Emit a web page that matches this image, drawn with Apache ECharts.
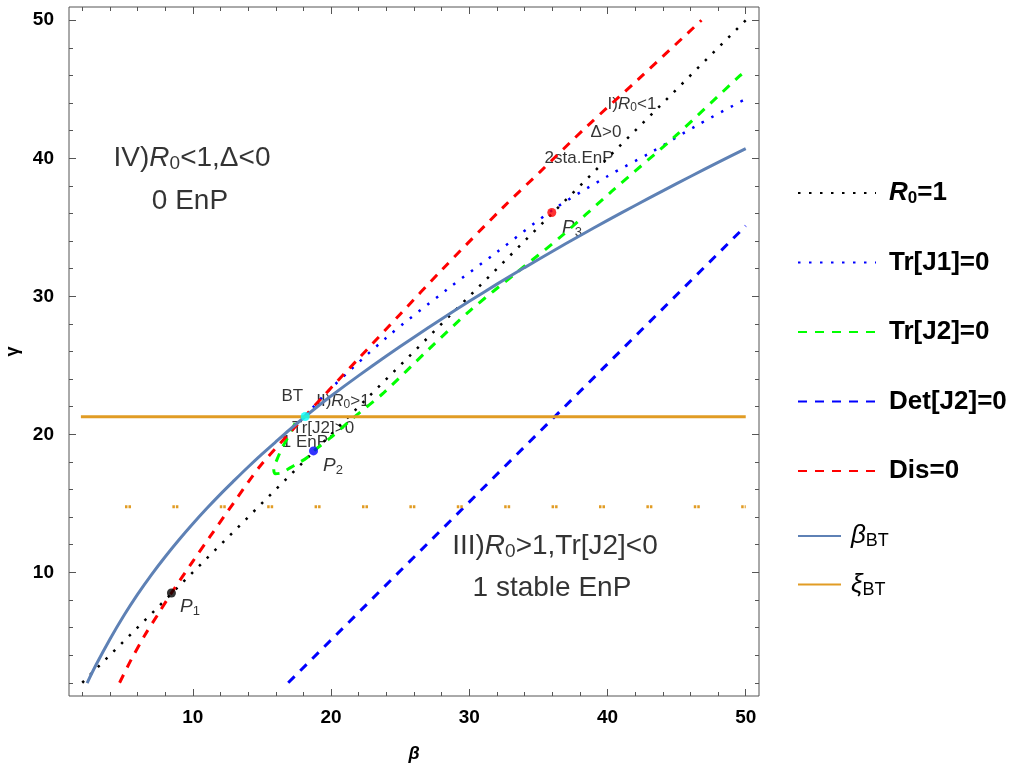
<!DOCTYPE html>
<html lang="en">
<head>
    <meta charset="utf-8">
    <title>BT bifurcation diagram</title>
    <script src="https://cdn.jsdelivr.net/npm/echarts@6.0.0/dist/echarts.min.js"></script>
    <style>
        html, body { margin: 0; padding: 0; background: #fff; }
        #main { width: 1016px; height: 769px; }
    </style>
</head>
<body>
<div id="main"></div>
<script type="text/javascript">
    // R0 = 1 (black dotted)
    var r0Beta = [2, 50];
    var r0Gamma = [2, 50];

    // Tr[J1] = 0 (blue dotted)
    var trJ1Beta = [18.2, 18.73, 20.06, 24, 28.4, 32, 36.1, 40, 43.1, 46.5, 50];
    var trJ1Gamma = [21.3, 22.0, 23.4, 27.0, 30.5, 33.2, 36.3, 38.7, 40.4, 42.4, 44.3];

    // Tr[J2] = 0 (green dashed)
    var trJ2Beta = [17.4, 17.0, 16.5, 16.1, 15.85, 15.95, 16.4, 17.0, 17.6, 18.25, 18.75, 19.9, 21.5, 23.8, 27, 30.1, 33.4, 36.6, 40.3, 44.9, 49.6, 50];
    var trJ2Gamma = [20.8, 20.0, 19.1, 18.2, 17.5, 17.15, 17.2, 17.55, 17.9, 18.3, 18.8, 19.7, 21.1, 23.0, 26.1, 29.0, 31.7, 34.3, 37.6, 41.6, 46.0, 46.3];

    // Det[J2] = 0 (blue dashed)
    var detBeta = [16.9, 50];
    var detGamma = [2.0, 35.1];

    // Dis = 0 (red dashed)
    var disBeta = [4.7, 5.5, 6.5, 7.5, 8.45, 10, 11.25, 13, 14.87, 17.28, 19.57, 22, 25, 28, 32.5, 35.1, 38.5, 42.2, 46.8];
    var disGamma = [2.0, 3.6, 5.4, 7.0, 8.5, 10.8, 12.6, 15.1, 17.7, 20.4, 22.9, 25.5, 28.7, 31.9, 36.5, 39.0, 42.3, 45.7, 50.0];

    // beta_BT (solid)
    var btBeta = [2.35, 3, 4, 5, 6, 7, 8, 9, 10, 11, 12, 13, 14, 15, 16, 17, 18, 19, 20, 22, 24, 26, 28, 30, 32, 34, 36, 38, 40, 42, 44, 46, 48, 50];
    var btGamma = [1.98, 3.3, 5.15, 6.85, 8.4, 9.82, 11.13, 12.36, 13.52, 14.62, 15.67, 16.66, 17.63, 18.56, 19.45, 20.33, 21.18, 22.0, 22.78, 24.25, 25.67, 27.04, 28.36, 29.64, 30.88, 32.08, 33.25, 34.39, 35.5, 36.58, 37.64, 38.68, 39.7, 40.7];

    // xi_BT (solid) and the dotted orange level
    var xiBeta = [1.9, 50];
    var xiGamma = [21.27, 21.27];
    var xiDotBeta = [5.09, 50];
    var xiDotGamma = [14.75, 14.75];

    // special points
    var pointNames = ['P1', 'P2', 'P3', 'BT'];
    var pointBeta = [8.45, 18.73, 35.97, 18.13];
    var pointGamma = [8.5, 18.8, 36.07, 21.29];
    var pointColors = ['#000000', '#0000ff', '#ff0000', '#00ffff'];

    // ticks
    var majorTicks = [10, 20, 30, 40, 50];
    var minorTicks = [2, 4, 6, 8, 12, 14, 16, 18, 22, 24, 26, 28, 32, 34, 36, 38, 42, 44, 46, 48];

    var FONT = '"Liberation Sans", Arial, sans-serif';
    var FRAME = '#555555';
    var axMin = 1.04, axMax = 50.96;

    function zip(a, b) {
        return a.map(function (v, i) { return [v, b[i]]; });
    }

    function frameAxis(pos, ticks, len, withLabels) {
        var ax = {
            type: 'value',
            position: pos,
            min: axMin,
            max: axMax,
            axisLine: {show: false},
            splitLine: {show: false},
            axisTick: {show: true, inside: true, length: len, customValues: ticks, lineStyle: {color: FRAME, width: 1}},
            axisLabel: {show: false}
        };
        if (withLabels) {
            ax.axisLabel = {
                show: true, customValues: majorTicks, color: '#000',
                fontFamily: FONT, fontWeight: 'bold', fontSize: 19, margin: 12
            };
        }
        return ax;
    }

    var xAxes = [frameAxis('bottom', majorTicks, 7, true), frameAxis('bottom', minorTicks, 4),
        frameAxis('top', majorTicks, 7), frameAxis('top', minorTicks, 4)];
    var yAxes = [frameAxis('left', majorTicks, 7, true), frameAxis('left', minorTicks, 4),
        frameAxis('right', majorTicks, 7), frameAxis('right', minorTicks, 4)];

    xAxes[0].name = 'β';
    xAxes[0].nameLocation = 'middle';
    xAxes[0].nameGap = 49;
    xAxes[0].nameTextStyle = {fontFamily: FONT, fontSize: 18, fontWeight: 'bold', fontStyle: 'italic', color: '#000'};
    yAxes[0].name = 'γ';
    yAxes[0].nameLocation = 'middle';
    yAxes[0].nameGap = 46;
    yAxes[0].nameTextStyle = {fontFamily: FONT, fontSize: 18, fontWeight: 'bold', color: '#000'};
    yAxes[0].axisLabel.margin = 15;

    var dotted = [2.5, 8.5];
    var dashed = [9, 8];

    function curve(name, bx, gy, color, width, type, smooth) {
        return {
            name: name, type: 'line', data: zip(bx, gy), showSymbol: false, symbol: 'none',
            smooth: smooth || false, animation: false, z: 2,
            lineStyle: {color: color, width: width, type: type},
            itemStyle: {color: color}
        };
    }

    var richBig = {
        n: {fontSize: 28, fontFamily: FONT, color: '#000'},
        i: {fontSize: 28, fontFamily: FONT, fontStyle: 'italic', color: '#000'},
        s: {fontSize: 19, fontFamily: FONT, color: '#000', padding: [11, 0, 0, 0]}
    };
    var richSmall = {
        n: {fontSize: 17, fontFamily: FONT, color: '#000'},
        i: {fontSize: 17, fontFamily: FONT, fontStyle: 'italic', color: '#000'},
        s: {fontSize: 12, fontFamily: FONT, color: '#000', padding: [7, 0, 0, 0]},
        pi: {fontSize: 19, fontFamily: FONT, fontStyle: 'italic', color: '#000'},
        ps: {fontSize: 13, fontFamily: FONT, color: '#000', padding: [8, 0, 0, 0]}
    };

    function note(text, b, g, rich) {
        return {value: [b, g], label: {formatter: text, rich: rich}};
    }

    var notes = [
        note('{n|IV)}{i|R}{s|0}{n|<1,Δ<0}', 9.94, 40.02, richBig),
        note('{n|0 EnP}', 9.79, 36.85, richBig),
        note('{n|III)}{i|R}{s|0}{n|>1,Tr[J2]<0}', 36.2, 11.86, richBig),
        note('{n|1 stable EnP}', 35.98, 8.86, richBig),
        note('{n|BT}', 17.2, 22.72, richSmall),
        note('{n|II)}{i|R}{s|0}{n|>1}', 20.86, 22.41, richSmall),
        note('{n|Tr[J2]>0}', 19.42, 20.46, richSmall),
        note('{n|1 EnP}', 18.11, 19.44, richSmall),
        note('{pi|P}{ps|1}', 9.79, 7.49, richSmall),
        note('{pi|P}{ps|2}', 20.14, 17.7, richSmall),
        note('{pi|P}{ps|3}', 37.43, 34.95, richSmall),
        note('{n|I)}{i|R}{s|0}{n|<1}', 41.77, 43.93, richSmall),
        note('{n|Δ>0}', 39.89, 41.9, richSmall),
        note('{n|2sta.EnP}', 37.94, 40.02, richSmall)
    ];

    var legendText = {
        'R0=1': '{bi|R}{bs|0}{b|=1}',
        'Tr[J1]=0': '{b|Tr[J1]=0}',
        'Tr[J2]=0': '{b|Tr[J2]=0}',
        'Det[J2]=0': '{b|Det[J2]=0}',
        'Dis=0': '{b|Dis=0}',
        'betaBT': '{g|β}{gs|BT}',
        'xiBT': '{g|ξ}{gs|BT}'
    };
    var legendRich = {
        b: {fontSize: 26, fontWeight: 'bold', fontFamily: FONT, color: '#000'},
        bi: {fontSize: 26, fontWeight: 'bold', fontStyle: 'italic', fontFamily: FONT, color: '#000'},
        bs: {fontSize: 17, fontWeight: 'bold', fontFamily: FONT, color: '#000', padding: [10, 0, 0, 0]},
        g: {fontSize: 26, fontStyle: 'italic', fontFamily: FONT, color: '#000'},
        gs: {fontSize: 18, fontFamily: FONT, color: '#000', padding: [10, 0, 0, 0]}
    };

    var myChart = echarts.init(document.getElementById('main'), null, {renderer: 'canvas'});
    var option = {
        backgroundColor: '#fff',
        animation: false,
        grid: {
            left: 69, top: 7, width: 690, height: 689, outerBoundsMode: 'none', containLabel: false,
            show: true, borderColor: FRAME, borderWidth: 1, backgroundColor: 'transparent'
        },
        xAxis: xAxes,
        yAxis: yAxes,
        legend: [
            {
                data: ['R0=1', 'Tr[J1]=0', 'Tr[J2]=0', 'Det[J2]=0', 'Dis=0'],
                orient: 'vertical', left: 792, top: 173,
                itemWidth: 78, itemHeight: 14, itemGap: 39.5, selectedMode: false,
                itemStyle: {opacity: 0},
                textStyle: {lineHeight: 30, padding: [0, 0, 0, 8], rich: legendRich},
                formatter: function (name) { return legendText[name]; }
            },
            {
                data: ['betaBT', 'xiBT'],
                orient: 'vertical', left: 792, top: 516,
                itemWidth: 43, itemHeight: 14, itemGap: 18.6, selectedMode: false,
                itemStyle: {opacity: 0},
                textStyle: {lineHeight: 30, padding: [0, 0, 0, 5], rich: legendRich},
                formatter: function (name) { return legendText[name]; }
            }
        ],
        series: [
            curve('R0=1', r0Beta, r0Gamma, '#000000', 2.5, dotted),
            curve('Tr[J1]=0', trJ1Beta, trJ1Gamma, '#0000ff', 2.5, dotted, 0.3),
            curve('Tr[J2]=0', trJ2Beta, trJ2Gamma, '#00ff00', 3, dashed, 0.3),
            curve('Det[J2]=0', detBeta, detGamma, '#0000ff', 3, dashed),
            curve('Dis=0', disBeta, disGamma, '#ff0000', 3, dashed, 0.3),
            curve('betaBT', btBeta, btGamma, '#5e81b5', 3, 'solid', 0.3),
            curve('xiBT', xiBeta, xiGamma, '#e19c24', 3, 'solid'),
            curve('xiLevel', xiDotBeta, xiDotGamma, '#e19c24', 3, [2.5, 1, 2.5, 41.4]),
            {
                name: 'points', type: 'scatter', symbolSize: 9, z: 5, animation: false,
                data: pointNames.map(function (n, i) {
                    return {name: n, value: [pointBeta[i], pointGamma[i]], itemStyle: {color: pointColors[i]}};
                })
            },
            {
                name: 'notes', type: 'scatter', symbolSize: 1, z: 1, animation: false, silent: true,
                itemStyle: {color: 'rgba(0,0,0,0)'},
                label: {show: true, position: 'inside', color: '#000', textBorderWidth: 0},
                data: notes
            }
        ]
    };
    myChart.setOption(option);
</script>
</body>
</html>
